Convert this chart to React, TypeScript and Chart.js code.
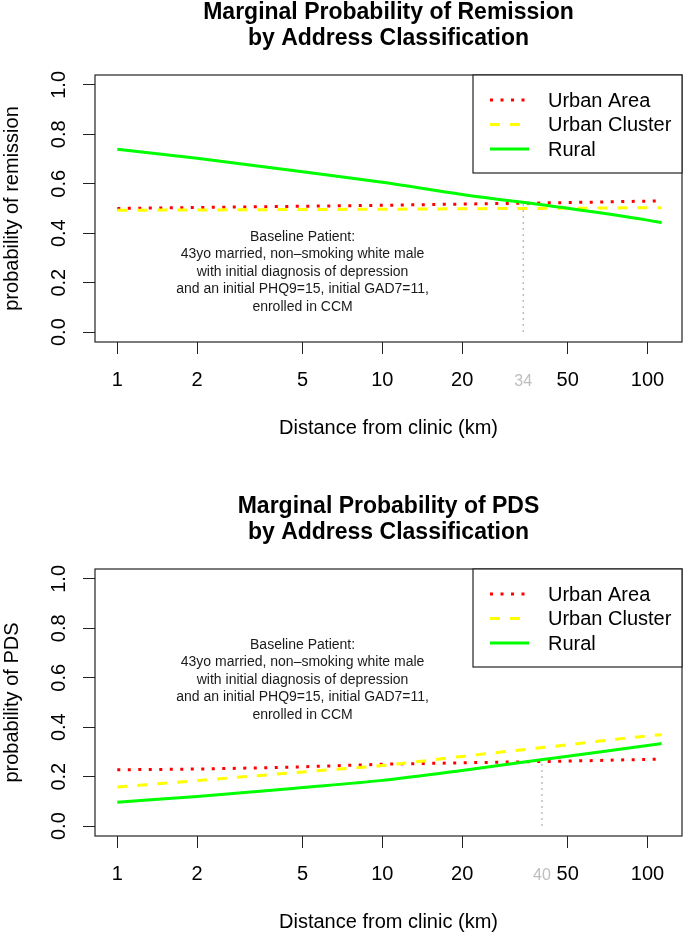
import React, { useEffect, useRef } from "react";
import { Chart, registerables } from "chart.js";

Chart.register(...registerables);

const FONT = "'Liberation Sans', Arial, Helvetica, sans-serif";

// ---------- data ----------
const distances = [1, 2, 5, 10, 20, 50, 100, 113];
const xTickValues = [1, 2, 5, 10, 20, 50, 100];
const yTickValues = [0, 0.2, 0.4, 0.6, 0.8, 1.0];
const seriesLabels = ["Urban Area", "Urban Cluster", "Rural"];

const remissionUrbanArea = [0.5, 0.504, 0.509, 0.513, 0.518, 0.524, 0.53, 0.531];
const remissionUrbanCluster = [0.493, 0.494, 0.496, 0.497, 0.499, 0.501, 0.503, 0.503];
const remissionRural = [0.74, 0.703, 0.649, 0.606, 0.557, 0.501, 0.453, 0.443];
const remissionCrossing = 34;
const remissionCrossingLevel = 0.522;

const pdsUrbanArea = [0.228, 0.231, 0.24, 0.25, 0.256, 0.263, 0.27, 0.271];
const pdsUrbanCluster = [0.158, 0.184, 0.219, 0.245, 0.282, 0.329, 0.365, 0.37];
const pdsRural = [0.097, 0.12, 0.156, 0.185, 0.225, 0.283, 0.326, 0.334];
const pdsCrossing = 40;
const pdsCrossingLevel = 0.265;

const noteLines = [
  "Baseline Patient:",
  "43yo married, non\u2013smoking white male",
  "with initial diagnosis of depression",
  "and an initial PHQ9=15, initial GAD7=11,",
  "enrolled in CCM",
];

// ---------- styles ----------
const SERIES_STYLES = [
  { color: "#FF0000", dash: [3, 7.5], order: 2 },
  { color: "#FFFF00", dash: [10, 10], order: 1 },
  { color: "#00FF00", dash: [], order: 0 },
];

type PanelProps = {
  title: string[];
  yLabel: string;
  series: number[][];
  crossing: number;
  crossingLevel: number;
  noteAnchor: { x: number; y: number };
  height: number;
  bottomPad: number;
};

function Panel(props: PanelProps) {
  const ref = useRef<HTMLCanvasElement | null>(null);

  useEffect(() => {
    const canvas = ref.current;
    if (!canvas) return;
    const { crossing } = props;

    const datasets: any[] = props.series.map((vals, i) => ({
      label: seriesLabels[i],
      data: distances.map((d, j) => ({ x: d, y: vals[j] })),
      borderColor: SERIES_STYLES[i].color,
      backgroundColor: SERIES_STYLES[i].color,
      borderWidth: 3,
      borderDash: SERIES_STYLES[i].dash,
      borderCapStyle: "butt",
      pointRadius: 0,
      fill: false,
      cubicInterpolationMode: "monotone",
      order: SERIES_STYLES[i].order,
    }));
    datasets.push({
      label: "crossing",
      data: [
        { x: crossing, y: 0 },
        { x: crossing, y: props.crossingLevel },
      ],
      borderColor: "#BEBEBE",
      borderWidth: 1.5,
      borderDash: [2, 4],
      pointRadius: 0,
      fill: false,
      order: 3,
    });

    const isCross = (ctx: any) => ctx && ctx.tick && ctx.tick.value === crossing;

    const boxPlugin = {
      id: "rBox",
      afterDatasetsDraw(chart: any) {
        const { ctx, chartArea: a } = chart;
        ctx.save();
        ctx.strokeStyle = "#222";
        ctx.lineWidth = 1.2;
        ctx.setLineDash([]);
        ctx.strokeRect(a.left, a.top, a.right - a.left, a.bottom - a.top);
        ctx.restore();
      },
    };

    const notePlugin = {
      id: "rNote",
      afterDatasetsDraw(chart: any) {
        const { ctx } = chart;
        const xs = chart.scales.x;
        const ys = chart.scales.y;
        const cx = xs.getPixelForValue(props.noteAnchor.x);
        const cy = ys.getPixelForValue(props.noteAnchor.y);
        ctx.save();
        ctx.fillStyle = "#1a1a1a";
        ctx.font = `14px ${FONT}`;
        ctx.textAlign = "center";
        ctx.textBaseline = "middle";
        noteLines.forEach((line, i) => ctx.fillText(line, cx, cy + i * 17.4));
        ctx.restore();
      },
    };

    const legendPlugin = {
      id: "rLegend",
      afterDraw(chart: any) {
        const { ctx, chartArea: a } = chart;
        const w = 209;
        const h = 98;
        const left = a.right - w;
        const top = a.top;
        ctx.save();
        ctx.fillStyle = "#fff";
        ctx.fillRect(left, top, w, h);
        ctx.strokeStyle = "#222";
        ctx.lineWidth = 1.2;
        ctx.setLineDash([]);
        ctx.strokeRect(left, top, w, h);
        const rows = [25, 49.5, 74];
        chart.data.datasets.slice(0, 3).forEach((ds: any, i: number) => {
          const y = top + rows[i];
          ctx.beginPath();
          ctx.strokeStyle = ds.borderColor;
          ctx.lineWidth = ds.borderWidth;
          ctx.lineCap = "butt";
          ctx.setLineDash(ds.borderDash || []);
          ctx.moveTo(left + 17, y);
          ctx.lineTo(left + 56, y);
          ctx.stroke();
          ctx.setLineDash([]);
          ctx.fillStyle = "#000";
          ctx.font = `20px ${FONT}`;
          ctx.textAlign = "left";
          ctx.textBaseline = "middle";
          ctx.fillText(ds.label, left + 75, y + 1);
        });
        ctx.restore();
      },
    };

    const chart = new Chart(canvas, {
      type: "line",
      data: { datasets },
      plugins: [boxPlugin, notePlugin, legendPlugin],
      options: {
        responsive: false,
        animation: false,
        events: [],
        layout: { padding: { top: 0, left: 0, right: 3, bottom: props.bottomPad } },
        plugins: {
          legend: { display: false },
          tooltip: { enabled: false },
          title: {
            display: true,
            fullSize: false,
            text: props.title,
            color: "#000",
            font: { family: FONT, size: 23, weight: "bold", lineHeight: 26 / 23 },
            padding: { top: 0, bottom: 23 },
          },
        },
        scales: {
          x: {
            type: "logarithmic",
            position: "bottom",
            min: 0.824,
            max: 135,
            afterBuildTicks: (s: any) => {
              s.ticks = [...xTickValues, crossing]
                .sort((a, b) => a - b)
                .map((v) => ({ value: v }));
            },
            afterFit: (s: any) => {
              s.height = 98;
            },
            border: { display: false },
            grid: {
              drawOnChartArea: false,
              drawTicks: true,
              tickLength: 12,
              lineWidth: 1,
              color: (ctx: any) => (isCross(ctx) ? "rgba(0,0,0,0)" : "#222"),
              tickColor: (ctx: any) => (isCross(ctx) ? "rgba(0,0,0,0)" : "#222"),
            },
            ticks: {
              autoSkip: false,
              minRotation: 0,
              maxRotation: 0,
              padding: 14,
              color: (ctx: any) => (isCross(ctx) ? "#BEBEBE" : "#000"),
              font: (ctx: any) =>
                isCross(ctx)
                  ? { family: FONT, size: 16, lineHeight: 1.675 }
                  : { family: FONT, size: 20, lineHeight: 1.2 },
              callback: (v: any) => String(v),
            },
            title: {
              display: true,
              text: "Distance from clinic (km)",
              color: "#000",
              font: { family: FONT, size: 20 },
              padding: 0,
            },
          },
          y: {
            type: "linear",
            min: -0.04,
            max: 1.04,
            afterBuildTicks: (s: any) => {
              s.ticks = yTickValues.map((v) => ({ value: v }));
            },
            afterFit: (s: any) => {
              s.width = 95;
            },
            border: { display: false },
            grid: {
              drawOnChartArea: false,
              drawTicks: true,
              tickLength: 12,
              lineWidth: 1,
              color: "#222",
              tickColor: "#222",
            },
            ticks: {
              minRotation: 90,
              maxRotation: 90,
              crossAlign: "center",
              padding: 9.5,
              color: "#000",
              font: { family: FONT, size: 20 },
              callback: (v: any) => Number(v).toFixed(1),
            },
            title: {
              display: true,
              text: props.yLabel,
              color: "#000",
              font: { family: FONT, size: 20 },
              padding: 0,
            },
          },
        },
      } as any,
    });
    return () => chart.destroy();
  }, []);

  return (
    <canvas
      ref={ref}
      width={685}
      height={props.height}
      style={{ display: "block", width: 685, height: props.height }}
    />
  );
}

export default function App() {
  return (
    <div style={{ position: "absolute", left: 0, top: 0, width: 685, height: 935, background: "#fff" }}>
      <Panel
        title={["Marginal Probability of Remission", "by Address Classification"]}
        yLabel="probability of remission"
        series={[remissionUrbanArea, remissionUrbanCluster, remissionRural]}
        crossing={remissionCrossing}
        crossingLevel={remissionCrossingLevel}
        noteAnchor={{ x: 5, y: 0.384 }}
        height={494}
        bottomPad={54}
      />
      <Panel
        title={["Marginal Probability of PDS", "by Address Classification"]}
        yLabel="probability of PDS"
        series={[pdsUrbanArea, pdsUrbanCluster, pdsRural]}
        crossing={pdsCrossing}
        crossingLevel={pdsCrossingLevel}
        noteAnchor={{ x: 5, y: 0.732 }}
        height={441}
        bottomPad={1}
      />
    </div>
  );
}
